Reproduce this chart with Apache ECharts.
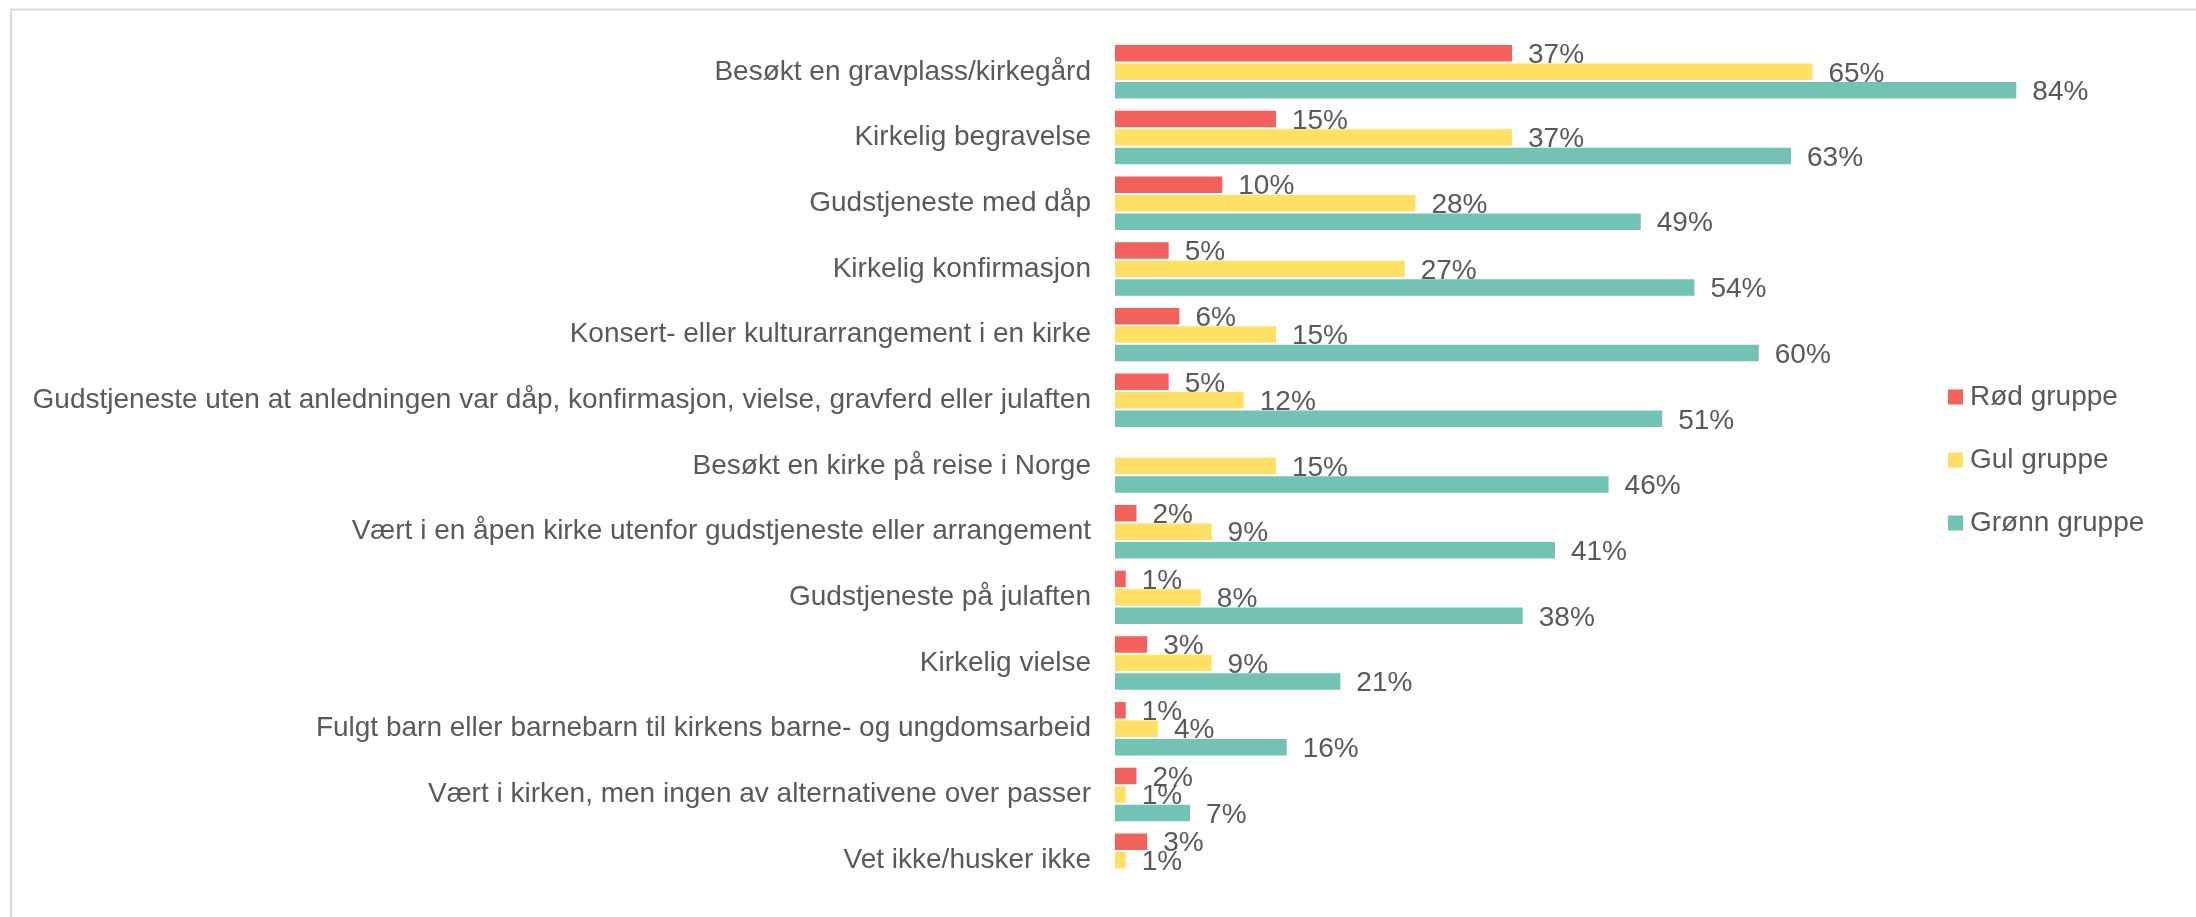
<!DOCTYPE html>
<html>
<head>
<meta charset="utf-8">
<script src="https://cdn.jsdelivr.net/npm/echarts@6/dist/echarts.min.js"></script>
<style>
html,body{margin:0;padding:0;background:#fff;}
#chart{width:2196px;height:917px;}
</style>
</head>
<body>
<div id="chart"></div>
<script>
const categories = [
  "Besøkt en gravplass/kirkegård",
  "Kirkelig begravelse",
  "Gudstjeneste med dåp",
  "Kirkelig konfirmasjon",
  "Konsert- eller kulturarrangement i en kirke",
  "Gudstjeneste uten at anledningen var dåp, konfirmasjon, vielse, gravferd eller julaften",
  "Besøkt en kirke på reise i Norge",
  "Vært i en åpen kirke utenfor gudstjeneste eller arrangement",
  "Gudstjeneste på julaften",
  "Kirkelig vielse",
  "Fulgt barn eller barnebarn til kirkens barne- og ungdomsarbeid",
  "Vært i kirken, men ingen av alternativene over passer",
  "Vet ikke/husker ikke"
];
const seriesNames = ["Rød gruppe", "Gul gruppe", "Grønn gruppe"];
const rodGruppe   = [37, 15, 10, 5, 6, 5, null, 2, 1, 3, 1, 2, 3];
const gulGruppe   = [65, 37, 28, 27, 15, 12, 15, 9, 8, 9, 4, 1, 1];
const gronnGruppe = [84, 63, 49, 54, 60, 51, 46, 41, 38, 21, 16, 7, null];
const colors = ["#F2615B", "#FDE064", "#72C3B4"];

const FONT = "'Liberation Sans', Arial, sans-serif";
const TXT = "#595959";

const chart = echarts.init(document.getElementById('chart'), null, {renderer: 'canvas'});

function mkSeries(name, data, color) {
  return {
    name: name,
    type: 'bar',
    data: data,
    barWidth: 16.5,
    barGap: '12%',
    itemStyle: {color: color},
    label: {
      show: true,
      position: 'right',
      distance: 16,
      offset: [0, 2],
      color: TXT,
      fontFamily: FONT,
      fontSize: 28,
      formatter: p => (p.value == null ? '' : p.value + '%')
    },
    emphasis: {disabled: true}
  };
}

chart.setOption({
  animation: false,
  color: colors,
  graphic: [{
    type: 'rect',
    shape: {x: 11, y: 9.5, width: 2400, height: 1200},
    style: {fill: 'none', stroke: '#d9d9d9', lineWidth: 2},
    silent: true,
    z: -1
  }],
  legend: {
    orient: 'vertical',
    left: 1948,
    top: 382,
    padding: 0,
    itemWidth: 15,
    itemHeight: 15,
    itemGap: 33,
    icon: 'rect',
    data: seriesNames,
    textStyle: {color: TXT, fontFamily: FONT, fontSize: 28, lineHeight: 30, padding: [0, 0, 0, 2]}
  },
  grid: {left: 1115, top: 39, width: 1073, height: 854, containLabel: false},
  xAxis: {
    type: 'value',
    min: 0,
    max: 100,
    show: false
  },
  yAxis: {
    type: 'category',
    data: categories,
    inverse: true,
    axisLine: {show: false},
    axisTick: {show: false},
    axisLabel: {color: TXT, fontFamily: FONT, fontSize: 28, margin: 24, padding: [4, 0, 0, 0]}
  },
  series: [
    mkSeries(seriesNames[0], rodGruppe, colors[0]),
    mkSeries(seriesNames[1], gulGruppe, colors[1]),
    mkSeries(seriesNames[2], gronnGruppe, colors[2])
  ]
});
</script>
</body>
</html>
